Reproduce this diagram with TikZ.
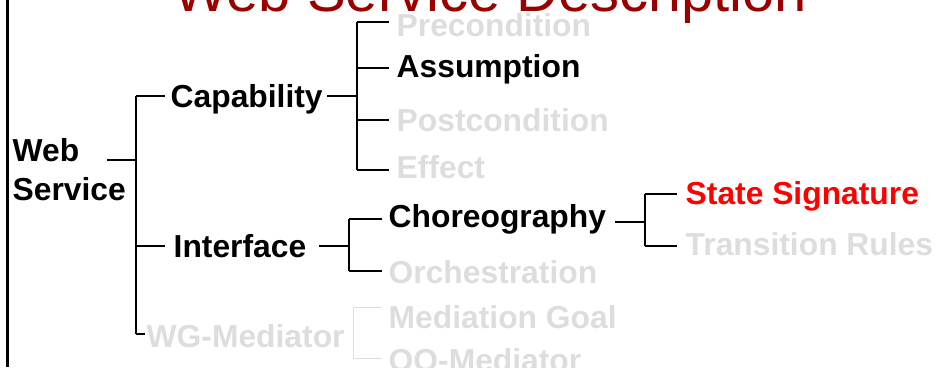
\documentclass[tikz,border=0pt]{standalone}
\usepackage{fontspec}
\setmainfont{Liberation Sans}
\definecolor{lightg}{RGB}{221,221,221}
\definecolor{titlered}{RGB}{153,0,0}
\definecolor{hired}{RGB}{255,0,0}
\begin{document}
\begin{tikzpicture}[x=1pt,y=-1pt,
  lbl/.style={anchor=base west,inner sep=0pt,font=\fontsize{31.8}{37}\selectfont\bfseries},
  dim/.style={lbl,text=lightg},
  conn/.style={draw=black,line width=1.1pt},
  dimconn/.style={draw=lightg,line width=1pt}]
\useasboundingbox (0,0) rectangle (939,367);
\clip (0,0) rectangle (939,367);
% left border
\draw[line width=2.5pt] (7.5,0) -- (7.5,367);
% title
\node[anchor=base,inner sep=0pt,text=titlered,font=\fontsize{58}{60}\selectfont] (title) at (490,11) {Web Service Description};
% labels
\node[lbl] (ws) at (12.5,161) {Web};
\node[lbl] (ws2) at (12.5,200) {Service};
\node[lbl] (cap) at (170.5,107) {Capability};
\node[lbl] (int) at (173.5,257) {Interface};
\node[dim] (wgm) at (146.5,347) {WG-Mediator};
\node[dim] (pre) at (396.5,36) {Precondition};
\node[lbl] (ass) at (396.5,77) {Assumption};
\node[dim] (post) at (396.5,131) {Postcondition};
\node[dim] (eff) at (396.5,178) {Effect};
\node[lbl] (cho) at (388.5,227) {Choreography};
\node[dim] (orc) at (388.5,283) {Orchestration};
\node[dim] (mg) at (388.5,328) {Mediation Goal};
\node[dim] (oom) at (388.5,371) {OO-Mediator};
\node[lbl,text=hired] (ss) at (685.5,204) {State Signature};
\node[dim] (tr) at (685.5,255) {Transition Rules};
% junction coordinates
\coordinate (j0) at (136,160);
\coordinate (j1) at (357,96);
\coordinate (j2) at (349,246);
\coordinate (j3) at (645,222);
% root tree
\draw[conn] (107,160) -- (j0);
\draw[conn] (136,96) -- (136,334);
\draw[conn] (136,96) -- (165,96);
\draw[conn] (136,246) -- (165,246);
\draw[conn] (136,334) -- (145,334);
% capability bracket
\draw[conn] (327,96) -- (j1);
\draw[conn] (357,22) -- (357,170);
\foreach \yy in {22,68,120,170} \draw[conn] (357,\yy) -- (389,\yy);
% interface bracket
\draw[conn] (319,246) -- (j2);
\draw[conn] (349,219) -- (349,271);
\draw[conn] (349,219) -- (382,219);
\draw[conn] (349,271) -- (382,271);
% choreography bracket
\draw[conn] (615,222) -- (j3);
\draw[conn] (645,194) -- (645,246);
\draw[conn] (645,194) -- (677,194);
\draw[conn] (645,246) -- (677,246);
% mediator bracket
\draw[dimconn] (382,307) -- (353,307) -- (353,358) -- (382,358);
\end{tikzpicture}
\end{document}
